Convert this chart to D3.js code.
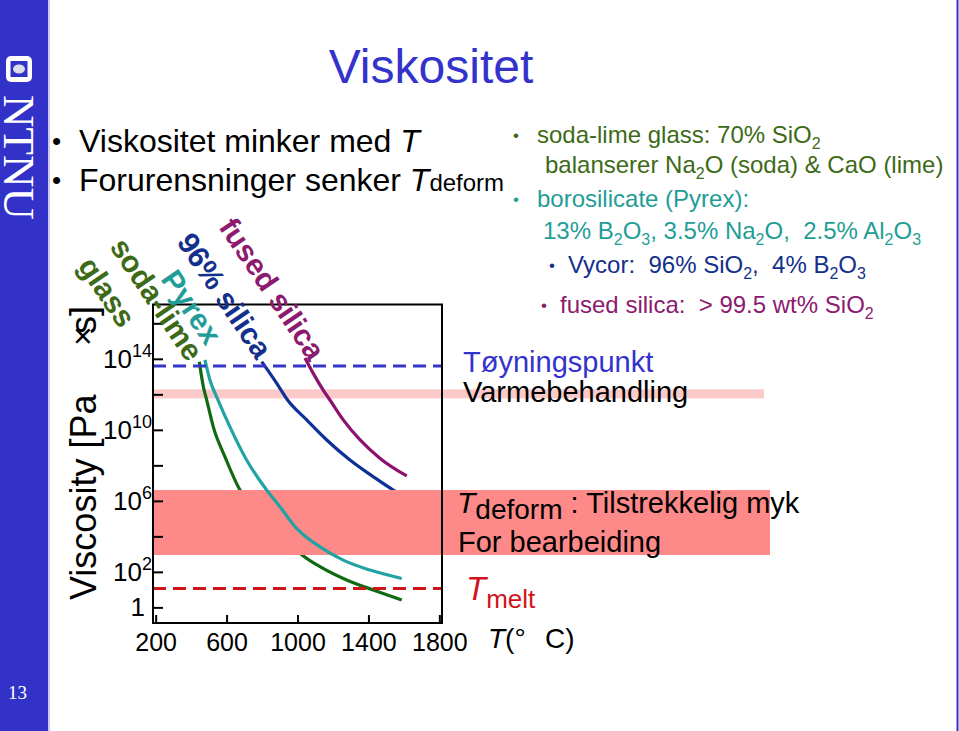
<!DOCTYPE html>
<html><head><meta charset="utf-8">
<script src="https://cdn.jsdelivr.net/npm/d3@7"></script>
<style>
html,body{margin:0;padding:0;background:#fff;}
svg{display:block;}
text{font-family:"Liberation Sans",Arial,sans-serif; white-space:pre;}
text.serif{font-family:"Liberation Serif","Times New Roman",serif;}
</style></head><body>
<svg id="c" width="959" height="731"></svg>
<script>
// ---------- data ----------
const xTickValues = [200, 600, 1000, 1400, 1800];
const xTickLabels = ["200", "600", "1000", "1400", "1800"];
const yTickExponents = [0, 2, 4, 6, 8, 10, 12, 14, 16];
const yLabelExponents = [0, 2, 6, 10, 14];
const yLabelBase = ["1", "10", "10", "10", "10"];
const yLabelSup = ["", "2", "6", "10", "14"];

const sodaLimeT = [446, 469, 488, 525, 591, 676, 760, 873, 1024, 1127, 1277, 1427, 1588];
const sodaLimeLogEta = [13.84, 12.43, 11.68, 10.17, 8.48, 6.61, 5.67, 4.49, 2.97, 2.29, 1.54, 0.98, 0.41];
const pyrexT = [478, 506, 552, 619, 713, 826, 901, 995, 1127, 1258, 1409, 1588];
const pyrexLogEta = [13.94, 12.81, 11.68, 10.17, 8.30, 6.61, 5.67, 4.45, 3.41, 2.66, 2.10, 1.63];
const silica96T = [798, 883, 944, 1052, 1165, 1296, 1427, 1540, 1588];
const silica96LogEta = [13.84, 12.62, 11.68, 10.56, 9.43, 8.30, 7.36, 6.61, 6.33];
const fusedT = [1042, 1089, 1145, 1183, 1258, 1353, 1466, 1616];
const fusedLogEta = [14.05, 13.18, 12.24, 11.68, 10.56, 9.43, 8.39, 7.40];

const strainPointLog = 13.6;
const meltLog = 1.07;
const annealBand = [11.77, 12.28];
const workingBand = [2.95, 6.61];

// ---------- setup ----------
const svg = d3.select("#c");
const BLUE = "#3333cc";
const C_SODA = "#0f6a12", C_PYREX = "#22a3a3", C_96 = "#0d3196", C_FUSED = "#8c1270";
const C_SODA_TXT = "#3d6a17", C_PYREX_TXT = "#1f9d96", C_96_TXT = "#13308c", C_FUSED_TXT = "#8c1a6e";

const x = d3.scaleLinear().domain([185, 1815]).range([153, 442]);
const y = d3.scaleLinear().domain([-0.88, 17.06]).range([623, 304.5]);

function rich(parent, xx, yy, segs, opts) {
  opts = opts || {};
  const t = parent.append("text").attr("x", xx).attr("y", yy)
    .attr("fill", opts.color || "#000")
    .attr("font-size", opts.size || 24)
    .attr("text-anchor", opts.anchor || "start");
  if (opts.transform) t.attr("transform", opts.transform);
  let prev = 0;
  segs.forEach(s => {
    const sp = t.append("tspan").text(s.t);
    const sh = s.shift || 0;
    if (sh !== prev) sp.attr("dy", sh - prev);
    prev = sh;
    if (s.size) sp.attr("font-size", s.size);
    if (s.italic) sp.attr("font-style", "italic");
    if (s.x !== undefined) sp.attr("x", s.x);
  });
  return t;
}

// ---------- slide frame ----------
svg.append("rect").attr("x", 0).attr("y", 0).attr("width", 48).attr("height", 731).attr("fill", "#3232c8");
svg.append("line").attr("x1", 49).attr("x2", 49).attr("y1", 0).attr("y2", 731).attr("stroke", "#b8b8ec").attr("stroke-width", 1.5);
svg.append("line").attr("x1", 957.5).attr("x2", 957.5).attr("y1", 0).attr("y2", 731).attr("stroke", "#3232c8").attr("stroke-width", 2);
svg.append("rect").attr("x", 6).attr("y", 56).attr("width", 26).attr("height", 26).attr("rx", 5).attr("fill", "#fff");
svg.append("rect").attr("x", 10.5).attr("y", 61).attr("width", 17).attr("height", 16).attr("fill", "#3232c8");
svg.append("ellipse").attr("cx", 19).attr("cy", 69).attr("rx", 6).attr("ry", 4.5).attr("fill", "#dcdce8");
svg.append("text").attr("class", "serif").attr("transform", "translate(4,95) rotate(90)")
  .attr("font-size", 45).attr("fill", "#fff").text("NTNU");
svg.append("text").attr("class", "serif").attr("x", 8).attr("y", 699)
  .attr("font-size", 19).attr("fill", "#fff").text("13");

// title
svg.append("text").attr("x", 431).attr("y", 83).attr("text-anchor", "middle")
  .attr("font-size", 48).attr("fill", BLUE).text("Viskositet");

// left bullets
svg.append("text").attr("x", 52).attr("y", 150).attr("font-size", 26).text("•");
rich(svg, 79, 152, [{t: "Viskositet minker med "}, {t: "T", italic: true}], {size: 32});
svg.append("text").attr("x", 52).attr("y", 189).attr("font-size", 26).text("•");
rich(svg, 79, 191, [{t: "Forurensninger senker "}, {t: "T", italic: true}, {t: "deform", size: 24}], {size: 32});

// right bullets
const rb = svg.append("g");
function bullet(bx, by, color) {
  rb.append("text").attr("x", bx).attr("y", by).attr("font-size", 17).attr("fill", color).text("•");
}
bullet(513, 141, C_SODA_TXT);
rich(rb, 537, 143, [{t: "soda-lime glass: 70% SiO"}, {t: "2", size: 16, shift: 6}], {color: C_SODA_TXT});
rich(rb, 545, 173, [{t: "balanserer Na"}, {t: "2", size: 16, shift: 6}, {t: "O (soda) & CaO (lime)", shift: 0}], {color: C_SODA_TXT});
bullet(513, 205, C_PYREX_TXT);
rich(rb, 537, 207, [{t: "borosilicate (Pyrex):"}], {color: C_PYREX_TXT});
rich(rb, 543, 239, [{t: "13% B"}, {t: "2", size: 16, shift: 6}, {t: "O", shift: 0}, {t: "3", size: 16, shift: 6},
  {t: ", 3.5% Na", shift: 0}, {t: "2", size: 16, shift: 6}, {t: "O,  2.5% Al", shift: 0}, {t: "2", size: 16, shift: 6},
  {t: "O", shift: 0}, {t: "3", size: 16, shift: 6}], {color: C_PYREX_TXT});
bullet(549, 271, C_96_TXT);
rich(rb, 568, 273, [{t: "Vycor:  96% SiO"}, {t: "2", size: 16, shift: 6}, {t: ",  4% B", shift: 0}, {t: "2", size: 16, shift: 6},
  {t: "O", shift: 0}, {t: "3", size: 16, shift: 6}], {color: C_96_TXT});
bullet(541, 311, C_FUSED_TXT);
rich(rb, 560, 313, [{t: "fused silica:  > 99.5 wt% SiO"}, {t: "2", size: 16, shift: 6}], {color: C_FUSED_TXT});

// ---------- chart ----------
const plot = svg.append("g");
plot.append("rect").attr("x", 153).attr("width", 764 - 153)
  .attr("y", y(annealBand[1])).attr("height", y(annealBand[0]) - y(annealBand[1])).attr("fill", "#fcc9c9");

const line = d3.line().x(d => x(d[0])).y(d => y(d[1])).curve(d3.curveMonotoneX);
function curve(T, L, color) {
  plot.append("path").datum(d3.zip(T, L)).attr("d", line).attr("fill", "none")
    .attr("stroke", color).attr("stroke-width", 3.2).attr("stroke-linecap", "butt");
}
curve(sodaLimeT, sodaLimeLogEta, C_SODA);
curve(silica96T, silica96LogEta, C_96);
curve(fusedT, fusedLogEta, C_FUSED);

plot.append("rect").attr("x", 154).attr("width", 770 - 154)
  .attr("y", y(workingBand[1])).attr("height", y(workingBand[0]) - y(workingBand[1])).attr("fill", "#fd8989");

curve(pyrexT, pyrexLogEta, C_PYREX);

plot.append("line").attr("x1", x(185)).attr("x2", x(1815)).attr("y1", y(strainPointLog)).attr("y2", y(strainPointLog))
  .attr("stroke", "#3535c8").attr("stroke-width", 3).attr("stroke-dasharray", "13,7");
plot.append("line").attr("x1", x(185)).attr("x2", x(1815)).attr("y1", y(meltLog)).attr("y2", y(meltLog))
  .attr("stroke", "#d0141c").attr("stroke-width", 3).attr("stroke-dasharray", "13,7");

// axes
const gx = svg.append("g").attr("transform", "translate(0,623)")
  .call(d3.axisBottom(x).tickValues(xTickValues).tickFormat((d, i) => xTickLabels[i]).tickSize(-8).tickPadding(10));
gx.select(".domain").remove();
gx.selectAll("line").attr("stroke", "#000").attr("stroke-width", 2);
gx.selectAll("text").attr("font-size", 25).attr("fill", "#000").style("font-family", "'Liberation Sans', Arial, sans-serif");

const gy = svg.append("g").attr("transform", "translate(153,0)")
  .call(d3.axisLeft(y).tickValues(yTickExponents).tickFormat("").tickSize(-10));
gy.select(".domain").remove();
gy.selectAll("line").attr("stroke", "#000").attr("stroke-width", 2);

yLabelExponents.forEach((e, i) => {
  const segs = [{t: yLabelBase[i]}];
  if (yLabelSup[i]) segs.push({t: yLabelSup[i], size: 18, shift: -11});
  rich(svg, yLabelSup[i] ? 152 : 145, y(e) + 9, segs, {size: 26, anchor: "end"});
});

svg.append("rect").attr("x", 153).attr("y", 304.5).attr("width", 289).attr("height", 318.5)
  .attr("fill", "none").attr("stroke", "#000").attr("stroke-width", 2);

// axis titles
rich(svg, 488, 648, [{t: "T", italic: true}, {t: "(°"}, {t: "C)", x: 545}], {size: 28});
const yl = svg.append("text").attr("transform", "translate(96,600) rotate(-90)").attr("font-size", 36).attr("fill", "#000");
yl.append("tspan").text("Viscosity [Pa");
yl.append("tspan").attr("x", 266).text("s]");
svg.append("text").attr("transform", "translate(94,346) rotate(-90)").attr("font-size", 34).attr("fill", "#000").text("×");

// curve labels (rotated)
const labels = [
  {t: "glass", x: 77, y: 266, c: C_SODA_TXT},
  {t: "soda-lime", x: 109, y: 247, c: C_SODA_TXT},
  {t: "Pyrex", x: 160, y: 279, c: C_PYREX_TXT},
  {t: "96% silica", x: 176, y: 242, c: C_96_TXT},
  {t: "fused silica", x: 218, y: 227, c: C_FUSED_TXT}
];
labels.forEach(l => {
  svg.append("text").attr("transform", `translate(${l.x},${l.y}) rotate(56)`)
    .attr("font-size", 30).attr("font-weight", "bold").attr("fill", l.c).text(l.t);
});

// annotations
svg.append("text").attr("x", 463).attr("y", 372).attr("font-size", 29).attr("fill", BLUE).text("Tøyningspunkt");
svg.append("text").attr("x", 463).attr("y", 402).attr("font-size", 29).attr("fill", "#000").text("Varmebehandling");
rich(svg, 457, 513, [{t: "T", italic: true, size: 30}, {t: "deform", size: 28, shift: 6}, {t: " : Tilstrekkelig myk", shift: 0}], {size: 29});
svg.append("text").attr("x", 458).attr("y", 552).attr("font-size", 29).attr("fill", "#000").text("For bearbeiding");
rich(svg, 466, 600, [{t: "T", italic: true, size: 33}, {t: "melt", size: 26, shift: 8}], {color: "#d0141c"});
</script>
</body></html>
